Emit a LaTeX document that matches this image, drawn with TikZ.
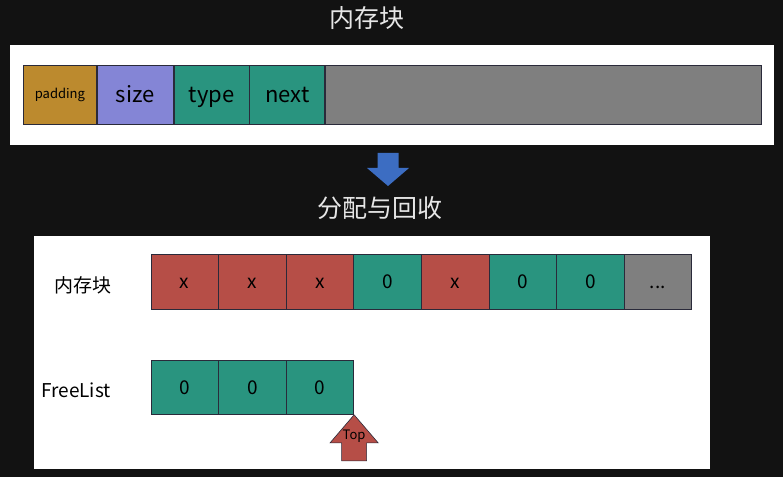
\documentclass[tikz,border=0pt]{standalone}
\usepackage{fontspec}
\setmainfont{Noto Sans CJK SC}
\usetikzlibrary{positioning, calc}
\definecolor{bgdark}{HTML}{121212}
\definecolor{cellline}{HTML}{2A2A3A}
\definecolor{padgold}{HTML}{BC8A2E}
\definecolor{sizeblue}{HTML}{8485D6}
\definecolor{slotteal}{HTML}{29947F}
\definecolor{usedred}{HTML}{B64E47}
\definecolor{restgray}{HTML}{7F7F7F}
\definecolor{downblue}{HTML}{3C6DC2}
\definecolor{titlegray}{HTML}{E6E6E6}
\newcommand{\moredots}{...}

\begin{document}
\begin{tikzpicture}[x=1pt, y=1pt,
    cell/.style={draw=cellline, line width=0.8pt, inner sep=0pt, anchor=north west,
      text=black, text height=18pt, text depth=4pt, font=\fontsize{19}{22}\selectfont},
    fieldcell/.style={cell, minimum height=59pt, text height=20pt, text depth=5pt,
      font=\fontsize{22}{26}\selectfont},
    title/.style={text=titlegray, font=\fontsize{25}{29}\selectfont},
    rowlabel/.style={text=black, font=\fontsize{19}{23}\selectfont}]
    % Hintergrund
    \fill[bgdark] (0,0) rectangle (783,477);
    \useasboundingbox (0,0) rectangle (783,477);
    % oberer Teil: Aufbau eines Blocks
    \node[title] (blocktitle) at (367,459) {内存块};
    \fill[white] (10,432) rectangle (774,332);
    \node[fieldcell, fill=padgold, minimum width=73pt, text height=10pt, text depth=3pt,
      font=\fontsize{13}{15}\selectfont] (pad) at (23,412) {padding};
    \node[fieldcell, fill=sizeblue, minimum width=76pt] (size) at (pad.north east) {size};
    \node[fieldcell, fill=slotteal, minimum width=75pt] (type) at (size.north east) {type};
    \node[fieldcell, fill=slotteal, minimum width=75pt] (next) at (type.north east) {next};
    \node[fieldcell, fill=restgray, minimum width=436pt] (rest) at (next.north east) {};
    % Pfeil nach unten
    \fill[downblue] (377.5,324) -- (398.5,324) -- (398.5,309) -- (409,309)
      -- (388,291) -- (367,309) -- (377.5,309) -- cycle;
    \node[title] (alloctitle) at (380,269) {分配与回收};
    % unterer Teil: Speicherblock und FreeList
    \fill[white] (34,241) rectangle (710,8);
    \node[rowlabel] (memlabel) at (83,192) {内存块};
    \foreach \c/\t [count=\i from 0] in {usedred/x, usedred/x, usedred/x, slotteal/0,
        usedred/x, slotteal/0, slotteal/0, restgray/\moredots}{
      \node[cell, fill=\c, minimum width=67.6pt, minimum height=55pt]
        (m\i) at ({150.5+\i*67.6},223) {\t};
    }
    \node[rowlabel] (freelabel) at (76,87) {FreeList};
    \foreach \i in {0,1,2}{
      \node[cell, fill=slotteal, minimum width=67.6pt, minimum height=54pt]
        (f\i) at ({150.5+\i*67.6},117) {0};
    }
    % Top-Zeiger
    \coordinate (toptip) at (f2.south east);
    \begin{scope}[shift={(toptip)}]
      \draw[draw=cellline, fill=usedred, line width=0.6pt, line join=miter]
        (0,0) -- (24,-28) -- (12.5,-28) -- (12.5,-46) -- (-12.5,-46) -- (-12.5,-28)
        -- (-24,-28) -- cycle;
    \end{scope}
    \node[text=black, font=\fontsize{13}{15}\selectfont] (toplabel)
      at ($(toptip)+(0,-21)$) {Top};
\end{tikzpicture}
\end{document}
